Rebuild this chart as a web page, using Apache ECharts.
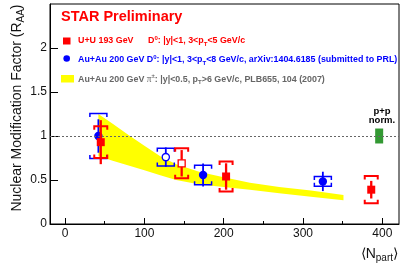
<!DOCTYPE html>
<html><head><meta charset="utf-8">
<script src="https://cdn.jsdelivr.net/npm/echarts@6/dist/echarts.min.js"></script>
<style>html,body{margin:0;padding:0;background:#fff}#c{width:409px;height:264px}</style>
</head><body><div id="c"></div>
<script>
// ---- data ----
// U+U 193 GeV D0
const uuNpart = [45, 147, 203, 386];
const uuRaa   = [0.93, 0.69, 0.54, 0.39];
const uuStat  = [0.25, 0.15, 0.15, 0.10];
const uuSys   = [0.18, 0.17, 0.17, 0.155];
const uuOpen  = [0, 1, 0, 0];
// Au+Au 200 GeV D0
const auNpart = [42, 127, 174, 325];
const auRaa   = [1.0, 0.76, 0.557, 0.484];
const auStat  = [0.19, 0.11, 0.13, 0.11];
const auSys   = [0.255, 0.10, 0.11, 0.055];
const auOpen  = [0, 1, 0, 0];
// Au+Au 200 GeV pi band
const piNpart = [42, 60, 80, 100, 120, 140, 170, 200, 233, 270, 310, 351];
const piUpper = [1.25, 1.14, 1.01, 0.89, 0.77, 0.68, 0.59, 0.53, 0.47, 0.42, 0.38, 0.33];
const piLower = [0.77, 0.72, 0.665, 0.61, 0.555, 0.50, 0.45, 0.42, 0.39, 0.35, 0.31, 0.27];
// p+p normalisation
const normNpart = [396];
const normVal = [1];
const normErr = [0.085];
// ticks
const xTicks = [0, 100, 200, 300, 400];
const xMinorTicks = [50, 150, 250, 350];
const yTicks = [0, 0.5, 1, 1.5, 2];

const F = '"Liberation Sans", Arial, Helvetica, sans-serif';
const RED = '#ff0000', BLUE = '#0000ff', YEL = '#ffff00', GREEN = '#339933';

function errRender(color, hw, lw, shape) {
  return function (params, api) {
    const x = api.value(0), y = api.value(1), st = api.value(2), sy = api.value(3), open = api.value(4);
    const c = api.coord([x, y]);
    const sT = api.coord([x, y + st])[1], sB = api.coord([x, y - st])[1];
    const yT = api.coord([x, y + sy])[1], yB = api.coord([x, y - sy])[1];
    const leg = 3.5;
    const ls = { stroke: color, lineWidth: lw, fill: null };
    const ch = [
      { type: 'polyline', shape: { points: [[c[0]-hw, yT+leg],[c[0]-hw, yT],[c[0]+hw, yT],[c[0]+hw, yT+leg]] }, style: ls },
      { type: 'polyline', shape: { points: [[c[0]-hw, yB-leg],[c[0]-hw, yB],[c[0]+hw, yB],[c[0]+hw, yB-leg]] }, style: ls },
      { type: 'line', shape: { x1: c[0], y1: sT, x2: c[0], y2: sB }, style: { stroke: color, lineWidth: lw + 0.3 } }
    ];
    const mStyle = open ? { fill: '#fff', stroke: color, lineWidth: 1.3 } : { fill: color, stroke: null };
    if (shape === 'circle') {
      ch.push({ type: 'circle', shape: { cx: c[0], cy: c[1], r: open ? 3.6 : 4.2 }, style: mStyle });
    } else {
      const s = open ? 7 : 8;
      ch.push({ type: 'rect', shape: { x: c[0]-s/2, y: c[1]-s/2, width: s, height: s }, style: mStyle });
    }
    return { type: 'group', children: ch };
  };
}

function richSet(color, size, weight) {
  return {
    m: { fill: color, fontSize: size, fontWeight: weight, fontFamily: F, lineHeight: 12, verticalAlign: 'middle' },
    sup: { fill: color, fontSize: size*0.68, fontWeight: weight, fontFamily: F, lineHeight: 6, verticalAlign: 'top' },
    sub: { fill: color, fontSize: size*0.68, fontWeight: weight, fontFamily: F, lineHeight: 6, verticalAlign: 'bottom' },
    pi: { fill: color, fontSize: size*1.05, fontWeight: 'normal', fontFamily: '"Liberation Serif", serif', lineHeight: 12, verticalAlign: 'middle' }
  };
}

const chart = echarts.init(document.getElementById('c'), null, { renderer: 'canvas' });
const option = {
  animation: false,
  backgroundColor: '#fff',
  grid: { left: 50, right: 10, top: 4, bottom: 40, show: true, borderColor: '#000', borderWidth: 1, containLabel: false },
  xAxis: [{
    type: 'value', min: -19, max: 421, position: 'bottom',
    axisLine: { show: true, onZero: false, lineStyle: { color: '#000', width: 1 } },
    axisTick: { show: true, inside: true, length: 6, customValues: xTicks, lineStyle: { color: '#000' } },
    axisLabel: { customValues: xTicks, fontSize: 12, color: '#111', margin: 4, fontFamily: F },
    splitLine: { show: false }
  }, {
    type: 'value', min: -19, max: 421, position: 'bottom',
    axisLine: { show: false, onZero: false },
    axisTick: { show: true, inside: true, length: 3, customValues: xMinorTicks, lineStyle: { color: '#000' } },
    axisLabel: { show: false },
    splitLine: { show: false }
  }],
  yAxis: {
    type: 'value', min: 0, max: 2.5,
    axisLine: { show: true, onZero: false, lineStyle: { color: '#000', width: 1 } },
    axisTick: { show: true, inside: true, length: 8, customValues: yTicks, lineStyle: { color: '#000' } },
    axisLabel: { customValues: yTicks, fontSize: 12, color: '#111', margin: 3, fontFamily: F },
    splitLine: { show: false }
  },
  series: [
    {
      type: 'custom', name: 'pi band', z: 1,
      data: piNpart.map((x, i) => [x, piUpper[i], piLower[i]]),
      encode: { x: 0, y: 1 },
      renderItem: function (params, api) {
        if (params.dataIndex !== 0) return null;
        const pts = [];
        for (let i = 0; i < piNpart.length; i++) pts.push(api.coord([piNpart[i], piUpper[i]]));
        for (let i = piNpart.length - 1; i >= 0; i--) pts.push(api.coord([piNpart[i], piLower[i]]));
        return { type: 'polygon', shape: { points: pts }, style: { fill: YEL, stroke: null } };
      }
    },
    {
      type: 'line', data: [], z: 2,
      markLine: {
        silent: true, symbol: 'none', label: { show: false },
        lineStyle: { type: [2, 2], color: '#666', width: 1 },
        data: [{ yAxis: 1 }]
      }
    },
    {
      type: 'custom', name: 'norm', z: 3,
      data: normNpart.map((x, i) => [x, normVal[i], normErr[i]]),
      encode: { x: 0, y: 1 },
      renderItem: function (params, api) {
        const x = api.value(0), v = api.value(1), e = api.value(2);
        const t = api.coord([x, v + e]), b = api.coord([x, v - e]);
        return { type: 'rect', shape: { x: t[0] - 4, y: t[1], width: 8, height: b[1] - t[1] }, style: { fill: GREEN } };
      }
    },
    {
      type: 'custom', name: 'Au+Au', z: 4,
      data: auNpart.map((x, i) => [x, auRaa[i], auStat[i], auSys[i], auOpen[i]]),
      encode: { x: 0, y: 1 },
      renderItem: errRender(BLUE, 8.5, 1.5, 'circle')
    },
    {
      type: 'custom', name: 'U+U', z: 5,
      data: uuNpart.map((x, i) => [x, uuRaa[i], uuStat[i], uuSys[i], uuOpen[i]]),
      encode: { x: 0, y: 1 },
      renderItem: errRender(RED, 6.5, 2, 'square')
    }
  ],
  graphic: [
    { type: 'text', x: 61, y: 17, style: { text: 'STAR Preliminary', fill: RED, font: 'bold 14.5px ' + F, verticalAlign: 'middle' } },
    { type: 'rect', shape: { x: 63, y: 37.5, width: 7.5, height: 7 }, style: { fill: RED } },
    { type: 'text', x: 78, y: 41, style: { text: '{m|U+U 193 GeV}', rich: richSet(RED, 8.9, 'bold'), verticalAlign: 'middle' } },
    { type: 'text', x: 148, y: 41, style: { text: '{m|D}{sup|0}{m|: |y|<1, 3<p}{sub|T}{m|<5 GeV/c}', rich: richSet(RED, 8.9, 'bold'), verticalAlign: 'middle' } },
    { type: 'circle', shape: { cx: 66.7, cy: 58.5, r: 3.3 }, style: { fill: BLUE } },
    { type: 'text', x: 78, y: 60, style: { text: '{m|Au+Au 200 GeV D}{sup|0}{m|: |y|<1, 3<p}{sub|T}{m|<8 GeV/c, arXiv:1404.6185 (submitted to PRL)}', rich: richSet(BLUE, 8.9, 'bold'), verticalAlign: 'middle' } },
    { type: 'rect', shape: { x: 61, y: 75, width: 13, height: 7.5 }, style: { fill: YEL } },
    { type: 'text', x: 78, y: 79.5, style: { text: '{m|Au+Au 200 GeV }{pi|π}{sup|±}{m|: |y|<0.5, p}{sub|T}{m|>6 GeV/c, PLB655, 104 (2007)}', rich: richSet('#666', 8.9, 'bold'), verticalAlign: 'middle' } },
    { type: 'text', x: 382, y: 111.5, style: { text: 'p+p', fill: '#000', font: 'bold 9.5px ' + F, align: 'center', verticalAlign: 'middle' } },
    { type: 'text', x: 382, y: 120.5, style: { text: 'norm.', fill: '#000', font: 'bold 9.5px ' + F, align: 'center', verticalAlign: 'middle' } },
    { type: 'text', x: 17, y: 108, rotation: Math.PI / 2, style: {
        text: '{m|Nuclear Modification Factor (R}{sub|AA}{m|)}', align: 'center', verticalAlign: 'middle',
        rich: {
          m: { fill: '#111', fontSize: 14, fontFamily: F, lineHeight: 18, verticalAlign: 'middle' },
          sub: { fill: '#111', fontSize: 10, fontFamily: F, lineHeight: 10, verticalAlign: 'bottom' }
        } } },
    { type: 'text', x: 398, y: 254, style: {
        text: '{m|⟨N}{sub|part}{m|⟩}', align: 'right', verticalAlign: 'middle',
        rich: {
          m: { fill: '#111', fontSize: 14, fontFamily: F, lineHeight: 18, verticalAlign: 'middle' },
          sub: { fill: '#111', fontSize: 10, fontFamily: F, lineHeight: 10, verticalAlign: 'bottom' }
        } } }
  ]
};
chart.setOption(option);
</script>
</body></html>
